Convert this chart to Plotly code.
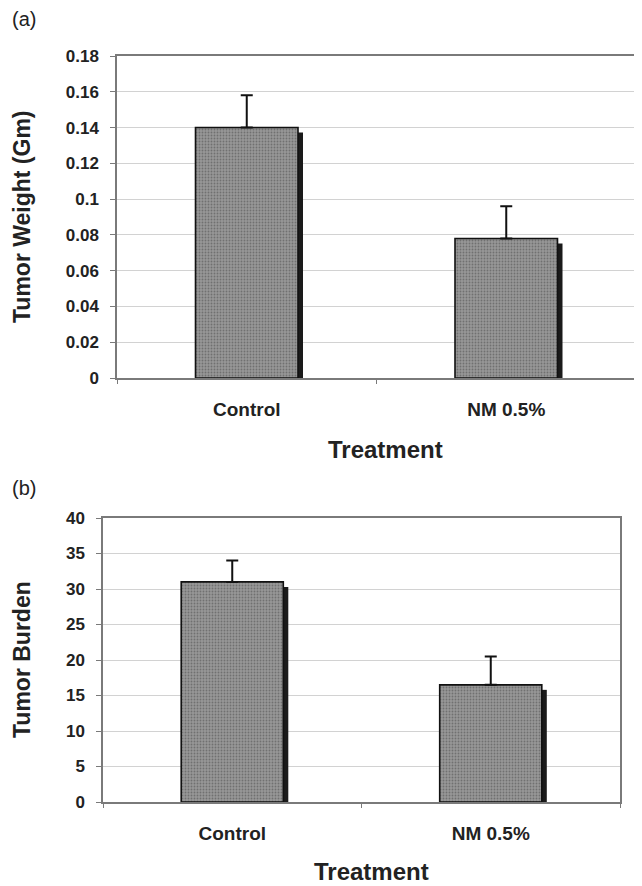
import plotly.graph_objects as go

# ---- data ----
categories = ["Control", "NM 0.5%"]
weight_mean = [0.140, 0.078]
weight_err = [0.018, 0.018]
burden_mean = [31.0, 16.5]
burden_err = [3.0, 4.0]
weight_ticks = [0, 0.02, 0.04, 0.06, 0.08, 0.1, 0.12, 0.14, 0.16, 0.18]
burden_ticks = [0, 5, 10, 15, 20, 25, 30, 35, 40]

W, H = 642, 886
OFF = 8  # page body margin: the figure is drawn 8px right/down of the window corner
FONT = "Liberation Sans, Arial, sans-serif"
BAR_W = 0.395
SHADOW_PX = 5


def px_x(x):
    return (x - OFF) / W


def px_y(y):
    return 1 - (y - OFF) / H


panels = [
    dict(x0=117, x1=636, y0=56, y1=378, ymax=0.18, ticks=weight_ticks,
         means=weight_mean, errs=weight_err, ytitle="Tumor Weight (Gm)",
         label="(a)", label_y=19, xtitle_y=449, xtitle_x=385),
    dict(x0=103, x1=620, y0=518, y1=802, ymax=40, ticks=burden_ticks,
         means=burden_mean, errs=burden_err, ytitle="Tumor Burden",
         label="(b)", label_y=488, xtitle_y=871, xtitle_x=372),
]

fig = go.Figure()
annotations = []

for i, p in enumerate(panels, start=1):
    xa = "x" if i == 1 else f"x{i}"
    ya = "y" if i == 1 else f"y{i}"
    plot_h = p["y1"] - p["y0"]
    cat_px = (p["x1"] - p["x0"]) / len(categories)
    units_per_px = p["ymax"] / plot_h
    shadow_w = SHADOW_PX / cat_px

    # dark drop shadow on the right of each bar
    fig.add_trace(go.Bar(
        x=categories, y=[m - SHADOW_PX * units_per_px for m in p["means"]],
        xaxis=xa, yaxis=ya, width=0.01 + shadow_w, offset=BAR_W / 2 - 0.01,
        marker=dict(color="#1a1a1a", line=dict(width=0)),
        showlegend=False, hoverinfo="skip"))

    # main bars with stipple texture
    fig.add_trace(go.Bar(
        x=categories, y=p["means"], xaxis=xa, yaxis=ya,
        width=BAR_W, offset=-BAR_W / 2,
        marker=dict(color="#8c8c8c",
                    line=dict(color="#111111", width=1.6),
                    pattern=dict(shape=".", size=3, solidity=0.3,
                                 fgcolor="#707070", bgcolor="#979797",
                                 fillmode="replace")),
        error_y=dict(type="data", array=p["errs"], arrayminus=[0] * len(p["errs"]),
                     symmetric=False, color="#111111", thickness=2, width=6),
        showlegend=False))

    xkey = "xaxis" if i == 1 else f"xaxis{i}"
    ykey = "yaxis" if i == 1 else f"yaxis{i}"
    fig.update_layout(**{
        xkey: dict(domain=[px_x(p["x0"]), px_x(p["x1"])], anchor=ya, automargin=False,
                   type="category", showline=True, mirror=True,
                   linecolor="#7a7a7a", linewidth=1.5,
                   ticks="outside", ticklen=4, tickcolor="#7a7a7a",
                   tickson="boundaries", showgrid=False,
                   tickfont=dict(family=FONT, size=19, color="#222222", weight="bold"),
                   ticklabelstandoff=13, fixedrange=True),
        ykey: dict(domain=[px_y(p["y1"]), px_y(p["y0"])], anchor=xa, automargin=False,
                   range=[0, p["ymax"]], tickvals=p["ticks"],
                   showline=True, mirror=True,
                   linecolor="#7a7a7a", linewidth=1.5,
                   ticks="outside", ticklen=5, tickcolor="#7a7a7a",
                   showgrid=True, gridcolor="#d2d2d2", gridwidth=1,
                   zeroline=False,
                   tickfont=dict(family=FONT, size=17, color="#222222", weight="bold"),
                   ticklabelstandoff=8, fixedrange=True),
    })

    annotations += [
        dict(text=p["label"], x=px_x(10), y=px_y(p["label_y"]), xref="paper", yref="paper",
             xanchor="left", yanchor="middle", showarrow=False,
             font=dict(family=FONT, size=20, color="#222222")),
        dict(text=f"<b>{p['ytitle']}</b>", x=px_x(22), y=px_y((p["y0"] + p["y1"]) / 2),
             xref="paper", yref="paper", textangle=-90, xanchor="center", yanchor="middle",
             showarrow=False, font=dict(family=FONT, size=23, color="#222222")),
        dict(text="<b>Treatment</b>", x=px_x(p["xtitle_x"]), y=px_y(p["xtitle_y"]),
             xref="paper", yref="paper", xanchor="center", yanchor="middle",
             showarrow=False, font=dict(family=FONT, size=24, color="#222222")),
    ]

fig.update_layout(
    width=W, height=H, margin=dict(l=0, r=0, t=0, b=0, autoexpand=False),
    paper_bgcolor="white", plot_bgcolor="white",
    barmode="overlay", annotations=annotations,
    font=dict(family=FONT, color="#222222"),
)

fig.write_html("out.html")
